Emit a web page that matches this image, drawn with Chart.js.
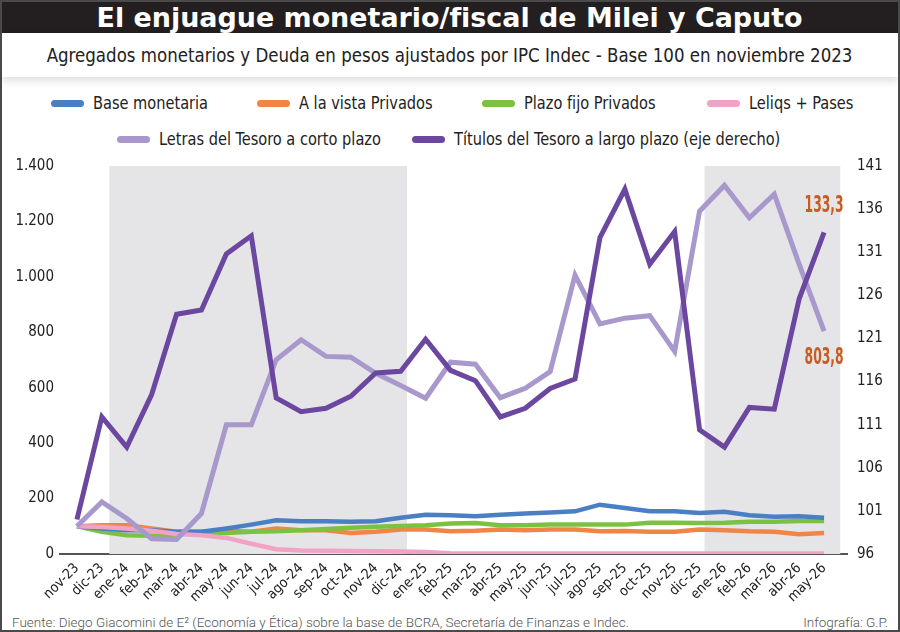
<!DOCTYPE html>
<html lang="es">
<head>
<meta charset="utf-8">
<script src="https://cdn.jsdelivr.net/npm/chart.js@4.4.1/dist/chart.umd.min.js"></script>
<style>
  html, body { margin: 0; padding: 0; background: #fff; }
  #frame {
    position: relative; width: 900px; height: 632px; overflow: hidden;
    box-sizing: border-box; border: 2px solid #4a4a4a; background: #fff;
    font-family: 'DejaVu Sans Condensed', 'Liberation Sans', sans-serif; color: #222;
  }
  #title {
    position: absolute; left: 0; top: 0; width: 100%; height: 31px; background: #231f20;
    color: #fff; font-weight: bold; font-size: 27px; line-height: 31px; text-align: center;
  }
  #subtitle {
    position: absolute; left: 0; top: 31px; width: 100%; height: 44px; background: #fff;
    font-size: 20px; line-height: 44px; text-align: center;
    box-shadow: 0 4px 8px rgba(0,0,0,0.13); z-index: 2;
  }
  .fit { display: inline-block; white-space: nowrap; transform-origin: 50% 50%; }
  .legend-row { position: absolute; left: 0; width: 100%; height: 24px; }
  .legend-item { position: absolute; top: 0; height: 24px; line-height: 24px; font-size: 18px; white-space: nowrap; }
  .legend-item i {
    display: inline-block; width: 33px; height: 7px; border-radius: 4px;
    vertical-align: middle; margin-right: 9px; position: relative; top: -1px;
  }
  .legend-item span { display: inline-block; transform: scaleX(0.9); transform-origin: 0 50%; }
  #chartBox { position: absolute; left: 0; top: 145px; }
  #footer {
    position: absolute; left: 10px; right: 10px; top: 612px; height: 18px;
    font-family: Roboto, 'Liberation Sans', sans-serif; font-weight: 300; font-size: 13.5px; color: #555;
  }
  #footer span.r { position: absolute; right: 0; }
</style>
</head>
<body>
<div id="frame">
  <div id="title"><span class="fit" data-w="706">El enjuague monetario/fiscal de Milei y Caputo</span></div>
  <div id="subtitle"><span class="fit" data-w="806">Agregados monetarios y Deuda en pesos ajustados por IPC Indec - Base 100 en noviembre 2023</span></div>
  <div class="legend-row" id="legend1" style="top:89px"></div>
  <div class="legend-row" id="legend2" style="top:125px"></div>
  <div id="chartBox"><canvas id="chart" width="896" height="460"></canvas></div>
  <div id="footer"><span>Fuente: Diego Giacomini de E² (Economía y Ética) sobre la base de BCRA, Secretaría de Finanzas e Indec.</span><span class="r">Infografía: G.P.</span></div>
</div>

<script>
// --- Data ---
const months = ['nov-23','dic-23','ene-24','feb-24','mar-24','abr-24','may-24','jun-24','jul-24','ago-24',
  'sep-24','oct-24','nov-24','dic-24','ene-25','feb-25','mar-25','abr-25','may-25','jun-25','jul-25',
  'ago-25','sep-25','oct-25','nov-25','dic-25','ene-26','feb-26','mar-26','abr-26','may-26'];

const baseMonetaria = [100, 92, 86, 86, 80, 80, 92, 106, 122, 118, 118, 116, 118, 131, 142, 140, 136, 142, 146, 150,
  154, 178, 166, 154, 154, 148, 152, 140, 134, 136, 131];
const vistaPrivados = [100, 104, 104, 92, 80, 80, 84, 80, 92, 86, 86, 76, 80, 88, 88, 82, 84, 88, 86, 88,
  88, 82, 83, 80, 80, 88, 86, 82, 80, 71, 76];
const plazoFijo = [100, 80, 68, 66, 70, 78, 76, 80, 82, 86, 90, 95, 98, 101, 104, 110, 112, 104, 104, 106,
  106, 106, 106, 113, 113, 112, 113, 116, 116, 119, 119];
const leliqsPases = [100, 97, 92, 84, 72, 68, 58, 37, 17, 13, 12, 11, 10, 9, 7, 3, 2, 2, 2, 2,
  2, 2, 2, 2, 2, 2, 2, 2, 2, 2, 2];
const letrasCorto = [100, 188, 128, 55, 52, 146, 466, 466, 701, 773, 713, 710, 652, 608, 562, 692, 685, 564, 598, 658,
  1006, 830, 851, 860, 731, 1237, 1330, 1213, 1298, 1045, 803.8];
const titulosLargo = [100, 111.9, 108.4, 114.5, 123.8, 124.3, 130.8, 132.9, 114.1, 112.5, 112.9, 114.3, 117.0, 117.2,
  120.9, 117.3, 116.1, 111.9, 112.9, 115.2, 116.3, 132.7, 138.3, 129.6, 133.4, 110.4, 108.4, 113.0, 112.8, 125.6, 133.3];

const leftTicks = [0, 200, 400, 600, 800, 1000, 1200, 1400];
const rightTicks = [96, 101, 106, 111, 116, 121, 126, 131, 136, 141];

// shaded periods, in month-index units
const shadedPeriods = [[1.3, 13.25], [25.2, 30.65]];

const FONT = "'DejaVu Sans Condensed', 'Liberation Sans', sans-serif";
const COLORS = {
  base: '#4a7fc4',
  vista: '#f08548',
  plazo: '#7cc242',
  leliqs: '#f2a2c4',
  letras: '#a898cc',
  titulos: '#6b47a0',
  shade: '#e5e5e8',
  axis: '#555555',
  endLabel: '#c65d22'
};

const series = [
  { label: 'Base monetaria', data: baseMonetaria, color: COLORS.base, axis: 'y', order: 3 },
  { label: 'A la vista Privados', data: vistaPrivados, color: COLORS.vista, axis: 'y', order: 5 },
  { label: 'Plazo fijo Privados', data: plazoFijo, color: COLORS.plazo, axis: 'y', order: 4 },
  { label: 'Leliqs + Pases', data: leliqsPases, color: COLORS.leliqs, axis: 'y', order: 2 },
  { label: 'Letras del Tesoro a corto plazo', data: letrasCorto, color: COLORS.letras, axis: 'y', order: 1 },
  { label: 'Títulos del Tesoro a largo plazo (eje derecho)', data: titulosLargo, color: COLORS.titulos, axis: 'y2', order: 0 }
];

// --- Headings: squeeze to the reference's condensed width ---
function fitHeadings() {
  document.querySelectorAll('.fit').forEach(el => {
    const w = el.getBoundingClientRect().width;
    el.style.transform = `scaleX(${(+el.dataset.w / w).toFixed(3)})`;
  });
}

// --- Legend (HTML) ---
function buildLegend() {
  const row1 = document.getElementById('legend1');
  const row2 = document.getElementById('legend2');
  const x1 = [49, 255, 480, 705];
  const x2 = [115, 410];
  series.forEach((s, i) => {
    const el = document.createElement('div');
    el.className = 'legend-item';
    el.innerHTML = `<i style="background:${s.color}"></i><span>${s.label}</span>`;
    if (i < 4) { el.style.left = x1[i] + 'px'; row1.appendChild(el); }
    else { el.style.left = x2[i - 4] + 'px'; row2.appendChild(el); }
  });
}

// --- Plugins ---
const shadePlugin = {
  id: 'shade',
  beforeDatasetsDraw(chart) {
    const { ctx, chartArea, scales } = chart;
    ctx.save();
    ctx.fillStyle = COLORS.shade;
    shadedPeriods.forEach(([a, b]) => {
      const x0 = scales.x.getPixelForValue(a);
      const x1 = scales.x.getPixelForValue(b);
      ctx.fillRect(x0, chartArea.top, x1 - x0, chartArea.bottom - chartArea.top);
    });
    ctx.restore();
  }
};

const endLabelPlugin = {
  id: 'endLabels',
  afterDatasetsDraw(chart) {
    const { ctx, scales } = chart;
    const last = months.length - 1;
    const fmt = v => v.toFixed(1).replace('.', ',');
    const x = scales.x.getPixelForValue(last);
    const put = (text, y) => {
      ctx.save();
      ctx.font = `bold 23px ${FONT}`;
      const sx = 39 / ctx.measureText(text).width;
      ctx.translate(x, y);
      ctx.scale(sx, 1);
      ctx.fillStyle = COLORS.endLabel;
      ctx.textAlign = 'center';
      ctx.textBaseline = 'middle';
      ctx.fillText(text, 0, 0);
      ctx.restore();
    };
    put(fmt(titulosLargo[last]), scales.y2.getPixelForValue(titulosLargo[last]) - 26);
    put(fmt(letrasCorto[last]), scales.y.getPixelForValue(letrasCorto[last]) + 27);
  }
};

// --- Chart ---
function drawChart() {
  const tickFont = { family: FONT, size: 15 };
  new Chart(document.getElementById('chart'), {
    type: 'line',
    data: {
      datasets: series.map(s => ({
        label: s.label,
        data: s.data.map((v, i) => ({ x: i, y: v })),
        borderColor: s.color,
        backgroundColor: s.color,
        borderWidth: s.order <= 1 ? 5 : 4.5,
        pointRadius: 0,
        tension: 0,
        yAxisID: s.axis,
        order: s.order
      }))
    },
    options: {
      responsive: false,
      animation: false,
      devicePixelRatio: 1,
      layout: { padding: { top: 9 } },
      plugins: { legend: { display: false }, tooltip: { enabled: false } },
      scales: {
        x: {
          type: 'linear',
          min: -0.68,
          max: 30.92,
          grid: { display: false, drawTicks: false },
          border: { display: true, color: COLORS.axis, width: 2 },
          afterBuildTicks: scale => { scale.ticks = months.map((_, i) => ({ value: i })); },
          afterFit: scale => { scale.height = 53; },
          ticks: {
            autoSkip: false,
            minRotation: 45,
            maxRotation: 45,
            padding: 6,
            color: '#222',
            font: { family: FONT, size: 14 },
            callback: v => months[v]
          }
        },
        y: {
          position: 'left',
          min: 0,
          max: 1400,
          grid: { display: false, drawTicks: false },
          border: { display: false },
          afterBuildTicks: scale => { scale.ticks = leftTicks.map(v => ({ value: v })); },
          afterFit: scale => { scale.width = 58; },
          ticks: {
            padding: 6,
            color: '#222',
            font: tickFont,
            callback: v => v.toLocaleString('de-DE')
          }
        },
        y2: {
          position: 'right',
          min: 96,
          max: 141,
          grid: { display: false, drawTicks: false },
          border: { display: false },
          afterBuildTicks: scale => { scale.ticks = rightTicks.map(v => ({ value: v })); },
          afterFit: scale => { scale.width = 51; },
          ticks: { padding: 10, color: '#222', font: tickFont }
        }
      }
    },
    plugins: [shadePlugin, endLabelPlugin]
  });
}

fitHeadings();
buildLegend();
drawChart();
</script>
</body>
</html>
